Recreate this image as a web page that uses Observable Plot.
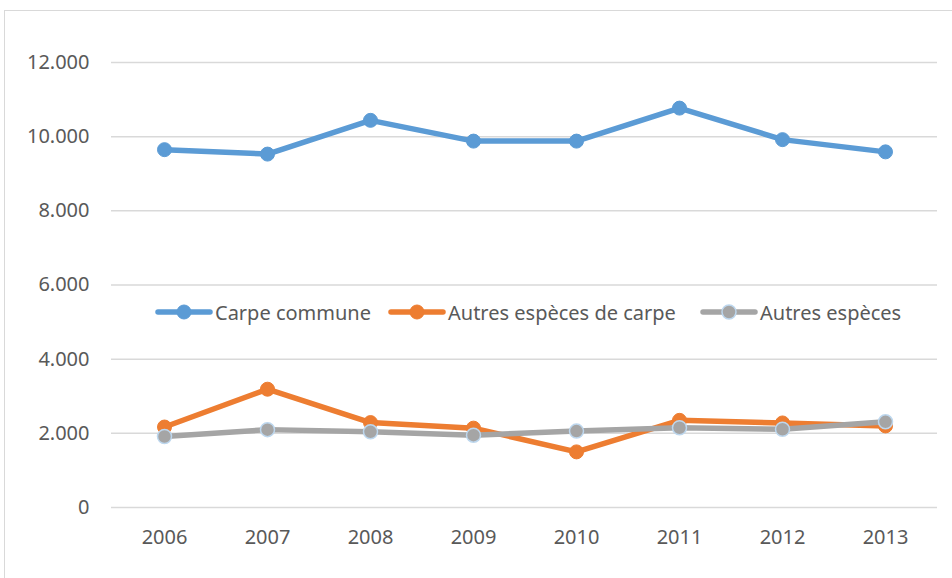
<!DOCTYPE html>
<html>
<head>
<meta charset="utf-8">
<script src="https://cdn.jsdelivr.net/npm/d3@7"></script>
<script src="https://cdn.jsdelivr.net/npm/@observablehq/plot@0.6"></script>
<style>
  html, body { margin: 0; padding: 0; background: #fff; }
  body { width: 952px; height: 578px; overflow: hidden; position: relative; font-family: "Noto Sans", sans-serif; }
  #border { position: absolute; left: 4px; top: 10px; width: 2000px; height: 2000px; border-left: 1.5px solid #d9d9d9; border-top: 1.5px solid #d9d9d9; }
  #chart { position: absolute; left: 0; top: 0; }
  #legend { position: absolute; top: 299px; left: 0; width: 952px; height: 26px; }
  .item { position: absolute; top: 0; display: flex; align-items: center; height: 26px; font-size: 20px; color: #595959; white-space: nowrap; }
  .item svg { margin-right: 2px; }
</style>
</head>
<body>
<div id="border"></div>
<div id="chart"></div>
<div id="legend"></div>
<script>
const years = ["2006", "2007", "2008", "2009", "2010", "2011", "2012", "2013"];
const seriesNames = ["Carpe commune", "Autres espèces de carpe", "Autres espèces"];
const carpeCommune = [9650, 9530, 10440, 9880, 9880, 10770, 9920, 9590];
const autresCarpe = [2170, 3190, 2290, 2140, 1500, 2350, 2280, 2200];
const autresEspeces = [1915, 2100, 2040, 1950, 2060, 2150, 2110, 2310];
const yTicks = [0, 2000, 4000, 6000, 8000, 10000, 12000];
const colors = ["#5B9BD5", "#ED7D31", "#A5A5A5"];
const markerStroke = ["#5B9BD5", "#ED7D31", "#BDD7EE"];

const values = [carpeCommune, autresCarpe, autresEspeces];
const rows = [];
values.forEach((arr, s) => arr.forEach((v, i) => rows.push({year: years[i], value: v, series: seriesNames[s]})));

const fmt = d => d3.format(",")(d).replace(/,/g, ".");

const marks = [
  Plot.ruleY(yTicks, {stroke: "#d9d9d9", strokeWidth: 1.5}),
  Plot.axisY({ticks: yTicks, tickFormat: fmt, tickSize: 0, tickPadding: 22, fontSize: 20, fill: "#595959"}),
  Plot.axisX({tickSize: 0, tickPadding: 22, fontSize: 20, fill: "#595959"})
];
seriesNames.forEach((name, s) => {
  const data = rows.filter(r => r.series === name);
  marks.push(Plot.line(data, {x: "year", y: "value", stroke: colors[s], strokeWidth: 5.5, strokeLinejoin: "round", strokeLinecap: "round"}));
  marks.push(Plot.dot(data, {x: "year", y: "value", r: 7, fill: colors[s], stroke: markerStroke[s], strokeWidth: s === 2 ? 1.5 : 1}));
});

const chart = Plot.plot({
  width: 952,
  height: 578,
  marginLeft: 111,
  marginRight: 15,
  marginTop: 62,
  marginBottom: 71,
  style: {background: "transparent", fontFamily: "'Noto Sans', sans-serif", color: "#595959"},
  x: {type: "point", domain: years, padding: 0.5, label: null},
  y: {domain: [0, 12000], label: null},
  marks
});
document.getElementById("chart").appendChild(chart);

// legend
const legendPos = [155, 388, 700];
const legend = document.getElementById("legend");
seriesNames.forEach((name, s) => {
  const div = document.createElement("div");
  div.className = "item";
  div.style.left = legendPos[s] + "px";
  div.innerHTML = `<svg width="58" height="26"><line x1="3" y1="13" x2="55" y2="13" stroke="${colors[s]}" stroke-width="5.5" stroke-linecap="round"/><circle cx="29" cy="13" r="7" fill="${colors[s]}" stroke="${markerStroke[s]}" stroke-width="${s === 2 ? 1.5 : 1}"/></svg><span>${name}</span>`;
  legend.appendChild(div);
});
</script>
</body>
</html>
